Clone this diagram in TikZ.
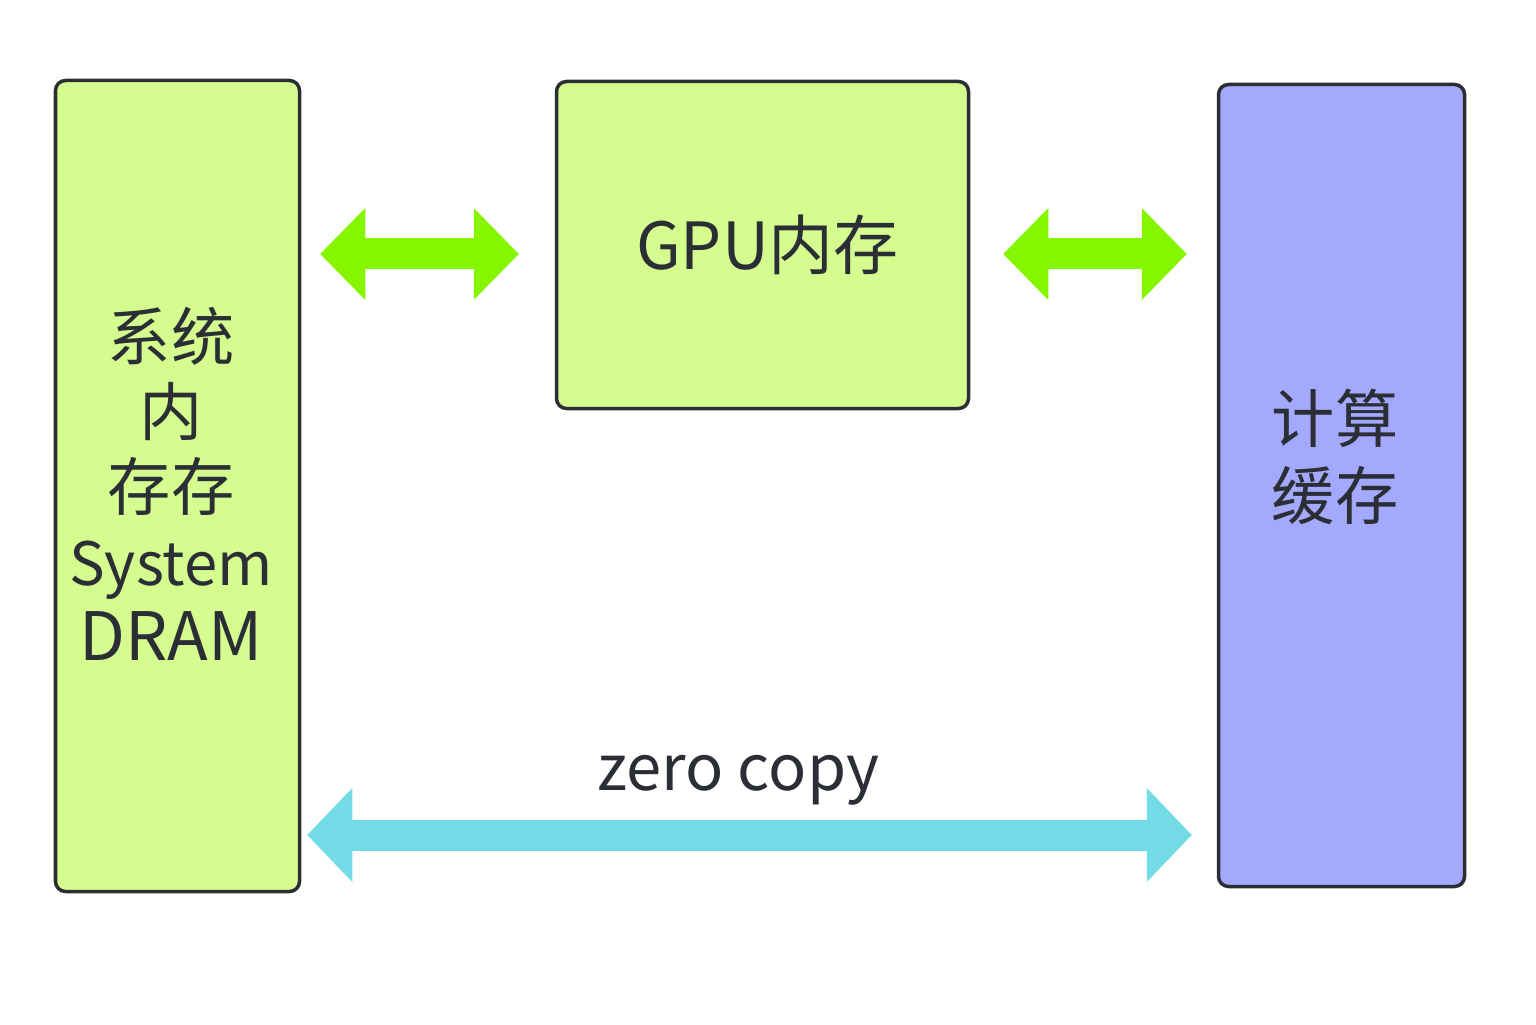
\documentclass[tikz,border=0pt]{standalone}
\usepackage{fontspec}
\setmainfont{Noto Sans CJK SC}
\usetikzlibrary{arrows.meta,positioning}
\definecolor{boxgreen}{HTML}{D4FC8F}
\definecolor{boxblue}{HTML}{A3A9FC}
\definecolor{arrgreen}{HTML}{86F500}
\definecolor{arrcyan}{HTML}{73DBE6}
\definecolor{ink}{HTML}{2B2F35}

\begin{document}
\begin{tikzpicture}[
    mem/.style={draw=ink, line width=0.035cm, rounded corners=0.1cm, text=ink, align=center},
    txt/.style={text=ink, align=center, inner sep=0pt},
    garrow/.style={draw=arrgreen, line width=0.31cm, {Triangle[length=0.45cm,width=0.92cm,line width=0pt]}-{Triangle[length=0.45cm,width=0.92cm,line width=0pt]}},
    carrow/.style={draw=arrcyan, line width=0.31cm, {Triangle[length=0.45cm,width=0.94cm,line width=0pt]}-{Triangle[length=0.45cm,width=0.94cm,line width=0pt]}}
    ]
    \useasboundingbox (0,0) rectangle (15.36,10.24);

    % memories
    \node[mem, fill=boxgreen, minimum width=2.44cm, minimum height=8.11cm] (sys) at (1.775,5.38) {};
    \node[txt, font=\fontsize{18}{21.3}\selectfont] (systxt) at (1.71,5.40)
          {系统\\内\\存存\\{\fontsize{17}{21.3}\selectfont System}\\{\fontsize{19}{21.3}\selectfont DRAM}};
    \node[mem, fill=boxgreen, minimum width=4.12cm, minimum height=3.27cm,
          font=\fontsize{18.5}{22}\selectfont] (gpu) at (7.625,7.79) {\hspace{0.1cm}GPU内存};
    \node[mem, fill=boxblue, minimum width=2.46cm, minimum height=8.02cm] (cache) at (13.415,5.385) {};
    \node[txt, font=\fontsize{18}{21.9}\selectfont] (cachetxt) at (13.35,5.67) {计算\\缓存};

    % links
    \coordinate (zc) at (7.5,1.89);
    \draw[garrow] ([xshift=0.19cm,yshift=-0.09cm]sys.east |- gpu.west) -- ([xshift=-0.36cm,yshift=-0.09cm]gpu.west);
    \draw[garrow] ([xshift=0.33cm,yshift=-0.09cm]gpu.east) -- ([xshift=-0.30cm,yshift=-0.09cm]cache.west |- gpu.east);
    \draw[carrow] ([xshift=0.06cm]sys.east |- zc) -- ([xshift=-0.25cm]cache.west |- zc);
    \node[txt, font=\fontsize{18}{22}\selectfont, anchor=base] (zctxt) at ([xshift=-0.12cm,yshift=0.45cm]zc) {zero copy};
\end{tikzpicture}
\end{document}
